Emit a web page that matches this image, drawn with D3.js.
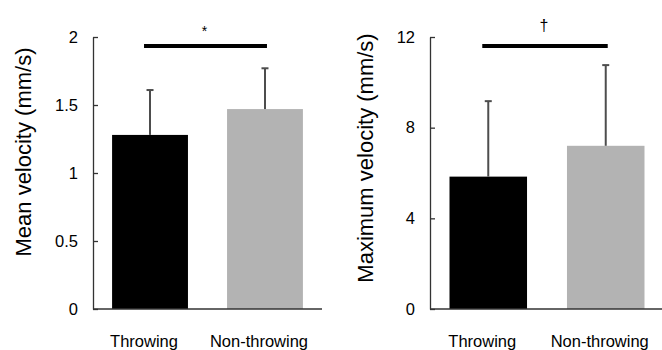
<!DOCTYPE html>
<html>
<head>
  <meta charset="UTF-8">
  <title>Throwing vs Non-throwing velocity</title>
  <style>
    body { margin: 0; background: #fff; }
    text { font-family: "Liberation Sans", Arial, sans-serif; fill: #000; }
  </style>
</head>
<body>
<svg id="chart" width="662" height="350"></svg>

<script src="https://d3js.org/d3.v7.min.js"></script>
<script>
  // data
  var categories = ["Throwing", "Non-throwing"];
  var barColors = ["#000000", "#b3b3b3"];

  var meanValues = [1.28, 1.47];
  var meanSD = [0.33, 0.30];
  var meanTicks = [0, 0.5, 1, 1.5, 2];

  var maxValues = [5.84, 7.2];
  var maxSD = [3.33, 3.56];
  var maxTicks = [0, 4, 8, 12];

  var panels = [
    { values: meanValues, sd: meanSD, ticks: meanTicks, yMax: 2,
      label: "Mean velocity (mm/s)", mark: "*",
      left: 93, width: 229, labelX: 31, labelY: 152 },
    { values: maxValues, sd: maxSD, ticks: maxTicks, yMax: 12,
      label: "Maximum velocity (mm/s)", mark: "\u2020",
      left: 430, width: 234, labelX: 373, labelY: 158 }
  ];

  var plotTop = 37, plotBottom = 309;
  var svg = d3.select("#chart");

  panels.forEach(function(p) {
    var g = svg.append("g");

    var x = d3.scaleBand()
      .domain(categories)
      .range([p.left, p.left + p.width])
      .paddingInner(0.34)
      .paddingOuter(0.166);

    var y = d3.scaleLinear()
      .domain([0, p.yMax])
      .range([plotBottom, plotTop]);

    var rows = categories.map(function(c, i) {
      return { cat: c, v: p.values[i], sd: p.sd[i], color: barColors[i] };
    });

    // bars
    g.selectAll("rect.bar")
      .data(rows)
      .join("rect")
      .attr("class", "bar")
      .attr("x", d => x(d.cat))
      .attr("y", d => y(d.v))
      .attr("width", x.bandwidth())
      .attr("height", d => plotBottom - y(d.v))
      .attr("fill", d => d.color);

    // error bars (upper only)
    var cx = d => x(d.cat) + x.bandwidth() / 2;
    g.selectAll("line.err")
      .data(rows)
      .join("line")
      .attr("class", "err")
      .attr("x1", cx).attr("x2", cx)
      .attr("y1", d => y(d.v))
      .attr("y2", d => y(d.v + d.sd))
      .attr("stroke", "#4d4d4d")
      .attr("stroke-width", 2);
    g.selectAll("line.cap")
      .data(rows)
      .join("line")
      .attr("class", "cap")
      .attr("x1", d => cx(d) - 3.5).attr("x2", d => cx(d) + 3.5)
      .attr("y1", d => y(d.v + d.sd))
      .attr("y2", d => y(d.v + d.sd))
      .attr("stroke", "#4d4d4d")
      .attr("stroke-width", 2);

    // y axis with inward ticks
    var yAxis = g.append("g")
      .attr("transform", "translate(" + p.left + ",0)")
      .call(d3.axisLeft(y).tickValues(p.ticks).tickFormat(d => String(d))
        .tickSizeInner(-5).tickSizeOuter(0).tickPadding(15));
    yAxis.selectAll("path, line").attr("stroke", "#333").attr("stroke-width", 1.3);
    yAxis.selectAll("text")
      .style("font-family", "'Liberation Sans', Arial, sans-serif")
      .style("font-size", "16.5px")
      .attr("fill", "#000");

    // x axis line
    g.append("line")
      .attr("x1", p.left).attr("x2", p.left + p.width)
      .attr("y1", plotBottom).attr("y2", plotBottom)
      .attr("stroke", "#333").attr("stroke-width", 1.3);

    // category labels
    g.selectAll("text.cat")
      .data(rows)
      .join("text")
      .attr("class", "cat")
      .attr("x", d => cx(d) - 6)
      .attr("y", 347)
      .attr("text-anchor", "middle")
      .style("font-size", "16.5px")
      .text(d => d.cat);

    // y label
    g.append("text")
      .attr("transform", "translate(" + p.labelX + "," + p.labelY + ") rotate(-90)")
      .attr("text-anchor", "middle")
      .style("font-size", "22px")
      .text(p.label);

    // significance bar
    var x1 = cx(rows[0]) - 6, x2 = cx(rows[1]) + 2;
    g.append("line")
      .attr("x1", x1).attr("x2", x2)
      .attr("y1", 46).attr("y2", 46)
      .attr("stroke", "#000").attr("stroke-width", 4);
    g.append("text")
      .attr("x", (x1 + x2) / 2 - 1)
      .attr("y", p.mark === "*" ? 36 : 31)
      .attr("text-anchor", "middle")
      .style("font-size", p.mark === "*" ? "14px" : "16px")
      .text(p.mark);
  });
</script>
</body>
</html>
